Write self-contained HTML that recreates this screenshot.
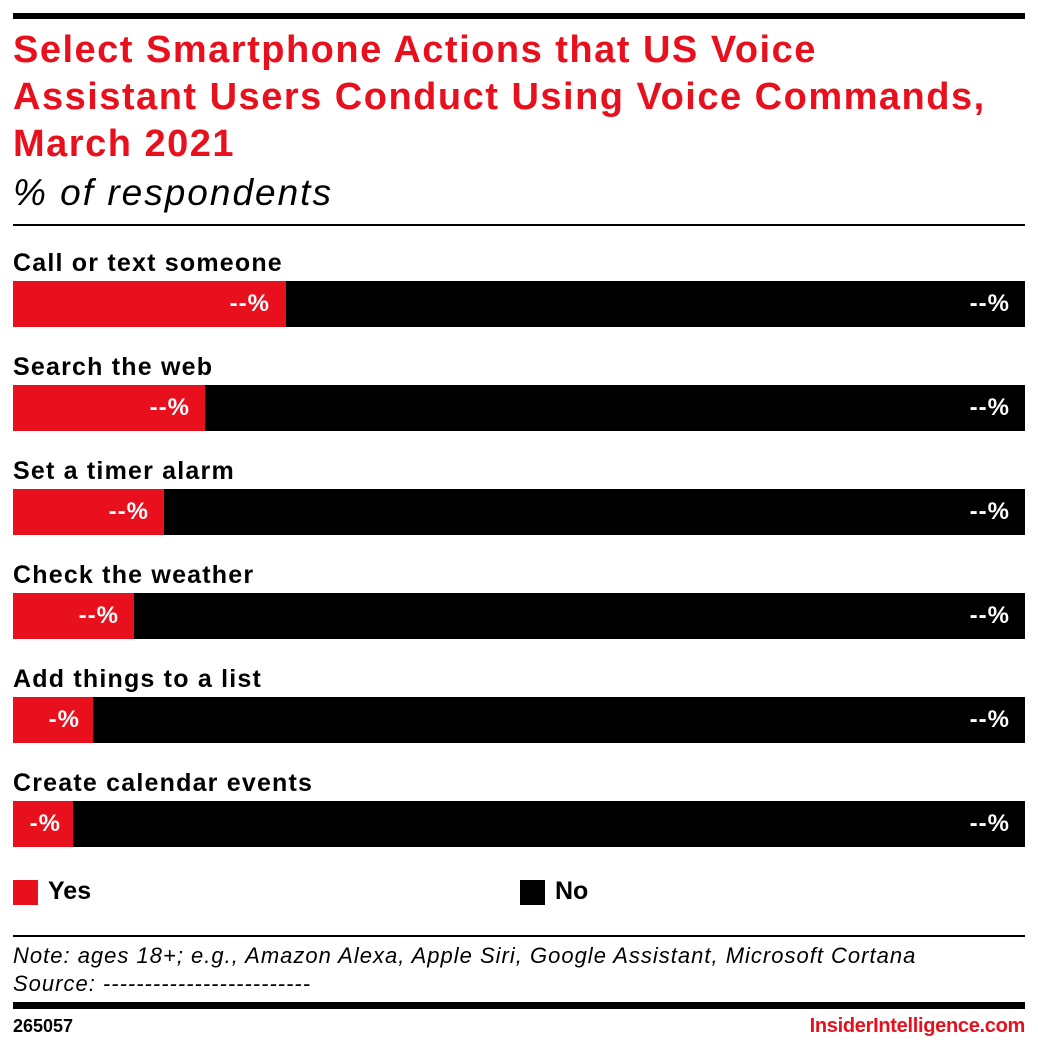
<!DOCTYPE html>
<html><head><style>
body{margin:0;width:1038px;height:1051px;background:#fff;position:relative;font-family:"Liberation Sans",sans-serif;overflow:hidden}
.a{position:absolute}
.t{left:13px;color:#e8101d;font-weight:bold;font-size:38px;line-height:47px;letter-spacing:1.5px;white-space:nowrap}
.lab{left:13px;font-weight:bold;font-size:25px;color:#000;letter-spacing:1.2px}
.bar{left:13px;width:1012px;height:46px;background:#000}
.red{position:absolute;left:0;top:0;height:46px;background:#e8101d}
.v{position:absolute;color:#fff;font-weight:bold;font-size:24px;top:9px;letter-spacing:1px}
</style></head><body>
<div class="a" style="left:13px;top:13px;width:1012px;height:6px;background:#000"></div>
<div class="a t" style="top:27px">Select Smartphone Actions that US Voice<br>Assistant Users Conduct Using Voice Commands,<br>March 2021</div>
<div class="a" style="left:13px;top:172px;font-size:37px;font-style:italic;letter-spacing:2px">% of respondents</div>
<div class="a" style="left:13px;top:224px;width:1012px;height:2px;background:#000"></div>

<div class="a lab" style="top:249px">Call or text someone</div>
<div class="a bar" style="top:281px"><div class="red" style="width:273px"></div><div class="v" style="right:755px">--%</div><div class="v" style="right:15px">--%</div></div>
<div class="a lab" style="top:353px">Search the web</div>
<div class="a bar" style="top:385px"><div class="red" style="width:192px"></div><div class="v" style="right:835px">--%</div><div class="v" style="right:15px">--%</div></div>
<div class="a lab" style="top:457px">Set a timer alarm</div>
<div class="a bar" style="top:489px"><div class="red" style="width:151px"></div><div class="v" style="right:876px">--%</div><div class="v" style="right:15px">--%</div></div>
<div class="a lab" style="top:561px">Check the weather</div>
<div class="a bar" style="top:593px"><div class="red" style="width:121px"></div><div class="v" style="right:906px">--%</div><div class="v" style="right:15px">--%</div></div>
<div class="a lab" style="top:665px">Add things to a list</div>
<div class="a bar" style="top:697px"><div class="red" style="width:80px"></div><div class="v" style="right:945px">-%</div><div class="v" style="right:15px">--%</div></div>
<div class="a lab" style="top:769px">Create calendar events</div>
<div class="a bar" style="top:801px"><div class="red" style="width:60px"></div><div class="v" style="right:964px">-%</div><div class="v" style="right:15px">--%</div></div>

<div class="a" style="left:13px;top:880px;width:25px;height:25px;background:#e8101d"></div>
<div class="a" style="left:48px;top:877px;font-weight:bold;font-size:25px">Yes</div>
<div class="a" style="left:520px;top:880px;width:25px;height:25px;background:#000"></div>
<div class="a" style="left:555px;top:877px;font-weight:bold;font-size:25px">No</div>

<div class="a" style="left:13px;top:935px;width:1012px;height:2px;background:#000"></div>
<div class="a" style="left:13px;top:942px;font-style:italic;font-size:22px;line-height:28px;letter-spacing:1px">Note: ages 18+; e.g., Amazon Alexa, Apple Siri, Google Assistant, Microsoft Cortana<br>Source: -------------------------</div>
<div class="a" style="left:13px;top:1002px;width:1012px;height:7px;background:#000"></div>
<div class="a" style="left:13px;top:1016px;font-weight:bold;font-size:18px">265057</div>
<div class="a" style="right:13px;top:1015px;font-weight:bold;font-size:20px;color:#e8101d;letter-spacing:-0.3px">InsiderIntelligence.com</div>
</body></html>
